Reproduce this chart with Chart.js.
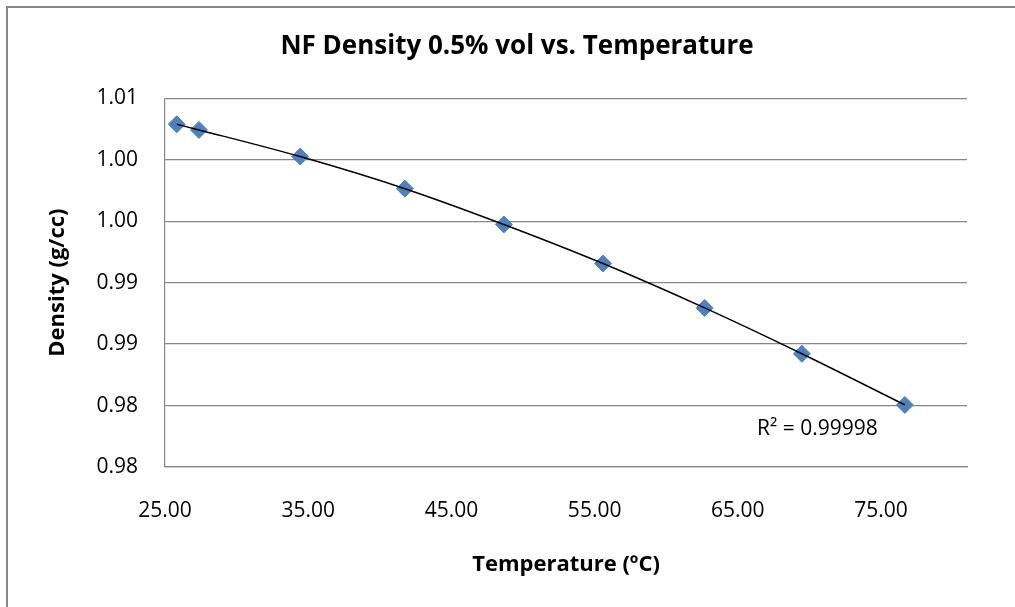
<!DOCTYPE html>
<html>
<head>
<meta charset="utf-8">
<script src="https://cdn.jsdelivr.net/npm/chart.js@4"></script>
<style>
  html, body { margin: 0; padding: 0; background: #fff; overflow: hidden; }
  #wrap { position: relative; width: 1015px; height: 607px; }
  #frame { position: absolute; left: 6px; top: 6px; width: 1100px; height: 700px;
           border-left: 2px solid #878787; border-top: 2px solid #878787; }
  canvas { position: absolute; left: 0; top: 0; }
</style>
</head>
<body>
<div id="wrap">
  <div id="frame"></div>
  <canvas id="myChart" width="1015" height="607"></canvas>
</div>
<script>
// datos
let temperatura = [25.82, 27.37, 34.44, 41.75, 48.66, 55.59, 62.68, 69.47, 76.66]
let densidad = [1.00788, 1.00742, 1.00525, 1.00264, 0.99973, 0.99655, 0.99294, 0.98921, 0.98505]
let xTicks = [25, 35, 45, 55, 65, 75]
let yTicks = [0.980, 0.985, 0.990, 0.995, 1.000, 1.005, 1.010]
let yTickLabels = ['0.98', '0.98', '0.99', '0.99', '1.00', '1.00', '1.01']
let r2Label = 'R² = 0.99998'

let puntos = temperatura.map((t, i) => ({ x: t, y: densidad[i] }))
let fuente = '"Open Sans", Lato, sans-serif'

// etiqueta R² junto al final de la linea de tendencia
const r2Plugin = {
    id: 'r2Plugin',
    afterDatasetsDraw(chart) {
        const ctx = chart.ctx
        const last = puntos[puntos.length - 1]
        const px = chart.scales.x.getPixelForValue(last.x)
        const py = chart.scales.y.getPixelForValue(last.y)
        ctx.save()
        ctx.font = '21px ' + fuente
        ctx.fillStyle = '#000'
        ctx.textAlign = 'right'
        ctx.textBaseline = 'middle'
        ctx.fillText(r2Label, px - 27, py + 24)
        ctx.restore()
    }
}

const ctx = document.getElementById('myChart');
new Chart(ctx, {
    type: 'scatter',
    data: {
        datasets: [
            {
                label: 'Tendencia',
                data: puntos,
                showLine: true,
                cubicInterpolationMode: 'monotone',
                borderColor: '#000',
                borderWidth: 1.5,
                pointRadius: 0,
                pointHoverRadius: 0,
            },
            {
                label: 'Densidad',
                data: puntos,
                pointStyle: 'rectRot',
                pointRadius: 8.5,
                pointHoverRadius: 8.5,
                backgroundColor: '#4F81BD',
                borderColor: '#4F81BD',
                borderWidth: 1,
            },
        ]
    },
    options: {
        responsive: false,
        animation: false,
        layout: { padding: { left: 19, right: 0, top: 0, bottom: 0 } },
        scales: {
            x: {
                type: 'linear',
                min: 25,
                max: 81,
                afterBuildTicks: s => { s.ticks = xTicks.map(v => ({ value: v })) },
                afterFit: s => { s.height = 140 },
                grid: { display: false, drawTicks: false },
                border: { display: true, color: '#868686', width: 1.2 },
                ticks: {
                    padding: 31,
                    color: '#000',
                    font: { family: fuente, size: 21 },
                    callback: v => v.toFixed(2),
                },
                title: {
                    display: true,
                    text: 'Temperature (ºC)',
                    color: '#000',
                    font: { family: fuente, size: 22, weight: 'bold' },
                    padding: { top: 0, bottom: 29 },
                },
            },
            y: {
                min: 0.98,
                max: 1.01,
                afterBuildTicks: s => { s.ticks = yTicks.map(v => ({ value: v })) },
                afterFit: s => { s.width = 146 },
                grid: { color: '#868686', lineWidth: 1.2, drawTicks: false },
                border: { display: true, color: '#868686', width: 1.2 },
                ticks: {
                    padding: 27,
                    color: '#000',
                    font: { family: fuente, size: 21 },
                    callback: (v, i) => yTickLabels[i],
                },
                title: {
                    display: true,
                    text: 'Density (g/cc)',
                    color: '#000',
                    font: { family: fuente, size: 22, weight: 'bold' },
                    padding: { top: 26, bottom: 0 },
                },
            },
            y2: {
                position: 'right',
                display: true,
                afterFit: s => { s.width = 48 },
                grid: { display: false, drawTicks: false },
                border: { display: false },
                ticks: { display: false },
            },
        },
        plugins: {
            legend: { display: false },
            tooltip: { enabled: false },
            title: {
                display: true,
                text: 'NF Density 0.5% vol vs. Temperature',
                color: '#000',
                font: { family: fuente, size: 26, weight: 'bold' },
                padding: { top: 31, bottom: 36 },
            },
        }
    },
    plugins: [r2Plugin],
});
</script>
</body>
</html>
